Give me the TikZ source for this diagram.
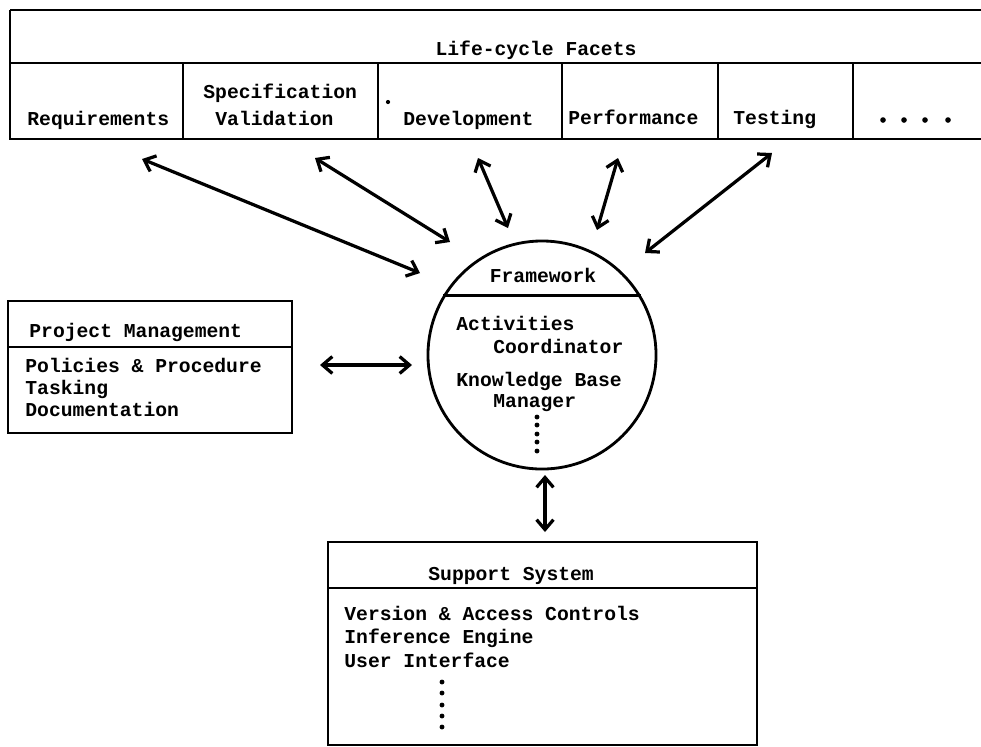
\documentclass[tikz,border=0pt]{standalone}
\usepackage{fontspec}
\setmonofont{Liberation Mono}
\usetikzlibrary{arrows.meta}

\begin{document}
\begin{tikzpicture}[x=0.025cm, y=-0.025cm, line width=2pt]
  \tikzstyle{lbl} = [anchor=base west, inner sep=0pt,
    font=\fontsize{14}{16}\selectfont\ttfamily\bfseries]
  \tikzstyle{link} = [{Straight Barb[length=7pt,width=12pt]}-{Straight Barb[length=7pt,width=12pt]},
    line width=2.3pt]
  \tikzstyle{dot} = [circle, fill, inner sep=0pt, minimum size=4pt]

  \useasboundingbox (0,0) rectangle (981,746);
  \clip (0,0) rectangle (981,746);

  % life-cycle facets
  \draw (10,10) -- (995,10) (10,10) -- (10,139) -- (995,139) (10,63) -- (995,63);
  \foreach \x in {183,378,562,718,853}
    \draw (\x,63) -- (\x,139);
  \node[lbl, anchor=base] (facets) at (536,55) {Life-cycle Facets};
  \node[lbl] (req) at (26,125) {Requirements};
  \node[lbl] (spec) at (202,98) {Specification};
  \node[lbl] (valid) at (214,125) {Validation};
  \node[dot, minimum size=3pt] (stray) at (388,102) {};
  \node[lbl] (dev) at (402,125) {Development};
  \node[lbl] (perf) at (567,124) {Performance};
  \node[lbl] (test) at (732,124) {Testing};
  \foreach \x [count=\i] in {883,904,925,948}
    \node[dot] (more\i) at (\x,120) {};

  % framework
  \node[draw, circle, minimum size=5.7cm, inner sep=0pt] (fw) at (542,355) {};
  \draw (fw.149) -- (fw.31);
  \node[lbl, anchor=base] (fwtitle) at (543,282) {Framework};
  \node[lbl] (act) at (455,330) {Activities};
  \node[lbl] (coord) at (492,353) {Coordinator};
  \node[lbl] (kb) at (455,386) {Knowledge Base};
  \node[lbl] (mgr) at (492,407) {Manager};
  \foreach \y [count=\i] in {417,425,434,442,451}
    \node[dot, minimum size=3.5pt] (fwdot\i) at (537,\y) {};

  % project management
  \draw (8,301) rectangle (292,433);
  \draw (8,347) -- (292,347);
  \node[lbl] (pm) at (28,337) {Project Management};
  \node[lbl] (pol) at (24,372) {Policies \& Procedure};
  \node[lbl] (task) at (24,394) {Tasking};
  \node[lbl] (doc) at (24,416) {Documentation};

  % support system
  \draw (328,542) rectangle (757,745);
  \draw (328,588) -- (757,588);
  \node[lbl] (sup) at (427,580) {Support System};
  \node[lbl] (ver) at (343,620) {Version \& Access Controls};
  \node[lbl] (inf) at (343,643) {Inference Engine};
  \node[lbl] (ui) at (343,667) {User Interface};
  \foreach \y [count=\i] in {682,693,705,716,727}
    \node[dot, minimum size=3.5pt] (ssdot\i) at (442,\y) {};

  % arrows
  \foreach \sx/\sy/\ex/\ey [count=\i] in {142/159/420/273, 315/158/450/242,
      478/158/508/228, 618/158/597/230, 772/153/645/253,
      320/365/412/365, 545/475/545/532} {
    \coordinate (s\i) at (\sx,\sy);
    \coordinate (e\i) at (\ex,\ey);
    \draw[link] (s\i) -- (e\i);
  }
\end{tikzpicture}
\end{document}
